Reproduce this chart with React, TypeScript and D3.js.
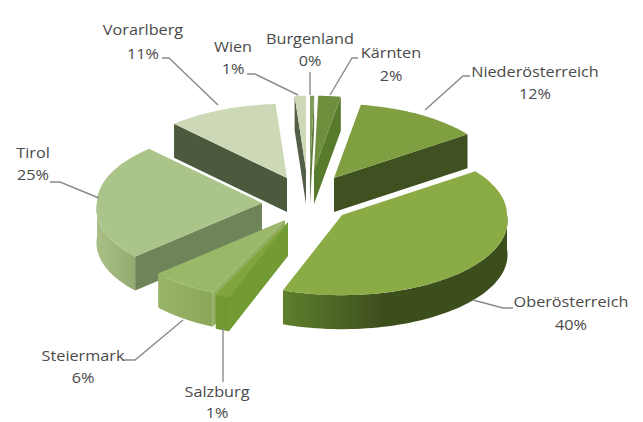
import React from "react";
import * as d3 from "d3";

// Regional shares, in percent, in pie order (clockwise from twelve o'clock)
const regions = ["Burgenland", "Kärnten", "Niederösterreich", "Oberösterreich", "Salzburg", "Steiermark", "Tirol", "Vorarlberg", "Wien"];
const shares = [0.4, 2.2, 12.4, 40.4, 1.3, 6.3, 25.0, 10.9, 1.1];

const topColors = ["#7d9a57", "#6f8f3e", "#7f9f40", "#8bab45", "#7fa53c", "#9ab86a", "#abc48a", "#cdd9b6", "#ccd8b6"];
const sideColors = ["#5f7a3c", "#587a2c", "#3f5120", "#3f5120", "#729c33", "#93ae60", "#70845a", "#4b5a3d", "#525e47"];
const rimLight = ["#6a8a3a", "#66883a", "#4a6026", "#5f7f2c", "#729c33", "#9ab468", "#a9bf86", "#5c6c4c", "#5c6c4c"];
const rimDark = ["#5a7530", "#587a2c", "#3f5120", "#3d4e1d", "#6f9630", "#8aa659", "#93aa70", "#4b5a3d", "#525e47"];

// Exploded position of each slice's tip on the page
const tipX = [310, 314, 334, 342, 288, 285, 262, 287, 306];
const tipY = [170, 170, 178, 215, 222, 220, 203, 178, 170];

const RADIUS = 165;
const SQUASH = 0.45;
const DEPTH = 34;
// Extra reach of the rim towards the viewer, for a slight perspective
const NEAR_GROWTH = 0.08;

const labelFont = "'Open Sans', sans-serif";
const labelColor = "#4a4a4a";
const labelStretch = 1.12;

// Label anchors: centre x, name baseline, value baseline
const labelX = [310, 391, 535, 571, 217, 83, 33, 143, 233];
const nameY = [44, 58, 77, 307, 397, 361, 158, 35, 52];
const valueY = [66, 81, 99, 330, 418, 383, 180, 59, 74];

const leaders: [number, number][][] = [
  [[310, 72], [310, 95]],
  [[358, 58], [352, 58], [330, 95]],
  [[470, 76], [463, 76], [425, 110]],
  [[513, 308], [503, 308], [473, 300]],
  [[223, 382], [223, 328]],
  [[123, 360], [135, 360], [183, 320]],
  [[50, 182], [60, 182], [99, 198]],
  [[162, 58], [169, 58], [218, 105]],
  [[247, 74], [255, 74], [298, 95]],
];

const paintOrder = [0, 8, 1, 7, 2, 6, 5, 4, 3];

export default function App() {
  const slices = d3.pie<number>().sort(null).value((d) => d)(shares);
  const project = (i: number, a: number, drop = 0): [number, number] => {
    const r = RADIUS * (1 + NEAR_GROWTH * Math.max(0, -Math.cos(a)));
    return [tipX[i] + r * Math.sin(a), tipY[i] - r * SQUASH * Math.cos(a) + drop];
  };
  const ringLine = d3.line();
  const sweep = (from: number, to: number) =>
    d3.range(0, 61).map((k) => from + ((to - from) * k) / 60);

  const radialWall = (i: number, a: number) =>
    ringLine([
      [tipX[i], tipY[i]],
      project(i, a),
      project(i, a, DEPTH),
      [tipX[i], tipY[i] + DEPTH],
    ]) + "Z";

  const outerWall = (i: number, a0: number, a1: number) => {
    const from = Math.max(a0, Math.PI / 2);
    const to = Math.min(a1, (3 * Math.PI) / 2);
    if (to <= from) return null;
    const steps = sweep(from, to);
    const upper = steps.map((a) => project(i, a));
    const lower = steps.map((a) => project(i, a, DEPTH)).reverse();
    return ringLine([...upper, ...lower]) + "Z";
  };

  const topFace = (i: number, a0: number, a1: number) =>
    ringLine([[tipX[i], tipY[i]], ...sweep(a0, a1).map((a) => project(i, a))]) + "Z";

  return (
    <svg
      width={643}
      height={422}
      viewBox="0 0 643 422"
      style={{ position: "absolute", left: 0, top: 0, background: "#fff" }}
    >
      <defs>
        {regions.map((_, i) => (
          <linearGradient key={i} id={`rim-${i}`} x1="0" x2="1" y1="0" y2="0">
            <stop offset="0" stopColor={rimLight[i]} />
            <stop offset={i === 3 ? 0.45 : 1} stopColor={rimDark[i]} />
          </linearGradient>
        ))}
      </defs>

      {paintOrder.map((i) => {
        const s = slices[i];
        const rim = outerWall(i, s.startAngle, s.endAngle);
        return (
          <g key={regions[i]}>
            {Math.sin(s.startAngle) < 0 && <path d={radialWall(i, s.startAngle)} fill={sideColors[i]} />}
            {Math.sin(s.endAngle) > 0 && <path d={radialWall(i, s.endAngle)} fill={sideColors[i]} />}
            {rim && <path d={rim} fill={`url(#rim-${i})`} />}
            <path d={topFace(i, s.startAngle, s.endAngle)} fill={topColors[i]} />
          </g>
        );
      })}

      {leaders.map((pts, i) => (
        <path key={i} d={ringLine(pts) ?? ""} fill="none" stroke="#8a8a8a" strokeWidth={1.4} />
      ))}

      {regions.map((name, i) => (
        <g key={name} fontFamily={labelFont} fontSize={14.5} fill={labelColor} textAnchor="middle">
          <text transform={`translate(${labelX[i]},${nameY[i]}) scale(${labelStretch},1)`}>{name}</text>
          <text transform={`translate(${labelX[i]},${valueY[i]}) scale(${labelStretch},1)`}>
            {`${Math.round(shares[i])}%`}
          </text>
        </g>
      ))}
    </svg>
  );
}
